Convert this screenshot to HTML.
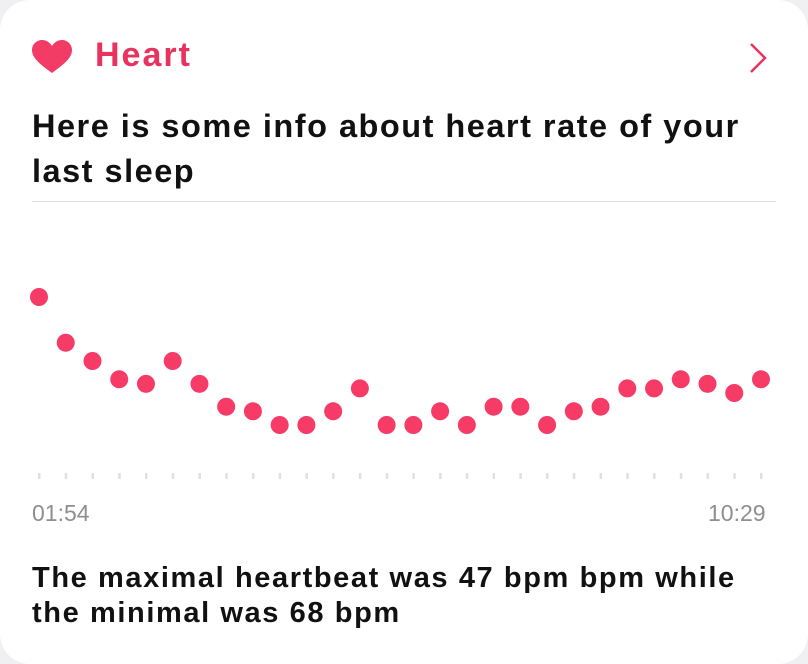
<!DOCTYPE html>
<html><head><meta charset="utf-8"><style>
html,body{margin:0;padding:0;background:#f0f0f2;}
#card{position:absolute;left:0;top:0;width:808px;height:664px;background:#fff;border-radius:30px;overflow:hidden;font-family:"Liberation Sans",sans-serif;}
.t{position:absolute;margin:0;white-space:nowrap;}
</style></head><body>
<div id="card">
<svg class="t" style="left:32px;top:40px" width="40" height="34" viewBox="0 0 40 34"><path d="M20 33 C6 23 0 17 0 10 C0 4 5 0 10 0 C15 0 18 3 20 6 C22 3 25 0 30 0 C35 0 40 4 40 10 C40 17 34 23 20 33Z" fill="#f23c65"/></svg>
<div class="t" style="left:95px;top:36px;font-size:34px;font-weight:bold;letter-spacing:2px;color:#e8335f">Heart</div>
<svg class="t" style="left:746px;top:42px" width="24" height="32"><path d="M5 2 L19 16 L5 30" stroke="#e8335f" stroke-width="2.5" fill="none"/></svg>
<div class="t" style="left:32px;top:104px;font-size:32.5px;font-weight:bold;letter-spacing:1.5px;line-height:45px;color:#111">Here is some info about heart rate of your<br>last sleep</div>
<div class="t" style="left:32px;top:201px;width:744px;height:1px;background:#dcdcdc"></div>
<svg class="t" style="left:0;top:0" width="808" height="664" id="chart"></svg>
<div class="t" style="left:32px;top:500px;font-size:23px;color:#8e8e93">01:54</div>
<div class="t" style="left:708px;top:500px;font-size:23px;color:#8e8e93">10:29</div>
<div class="t" style="left:32px;top:561px;font-size:29px;font-weight:bold;letter-spacing:1.6px;line-height:35px;color:#111">The maximal heartbeat was 47 bpm bpm while<br>the minimal was 68 bpm</div>
</div>
<script>
const bpm=[68,63,61,59,58.5,61,58.5,56,55.5,54,54,55.5,58,54,54,55.5,54,56,56,54,55.5,56,58,58,59,58.5,57.5,59];
const yMin=47,yMax=75;
const x0=39,x1=761,yTop=233,yBot=489;
const svg=document.getElementById('chart');
const NS='http://www.w3.org/2000/svg';
function xs(i){return x0+(x1-x0)*i/(bpm.length-1);}
function ys(v){return yBot-(v-yMin)/(yMax-yMin)*(yBot-yTop);}
for(let i=0;i<bpm.length;i++){
  const t=document.createElementNS(NS,'rect');
  t.setAttribute('x',xs(i)-1);t.setAttribute('y',473);t.setAttribute('width',2.5);t.setAttribute('height',6);t.setAttribute('fill','#e0e0e0');
  
  
  svg.appendChild(t);
}
bpm.forEach((v,i)=>{
  const c=document.createElementNS(NS,'circle');
  c.setAttribute('cx',xs(i));c.setAttribute('cy',ys(v));c.setAttribute('r',9);c.setAttribute('fill','#f53b66');
  
  
  svg.appendChild(c);
});
</script>
</body></html>
